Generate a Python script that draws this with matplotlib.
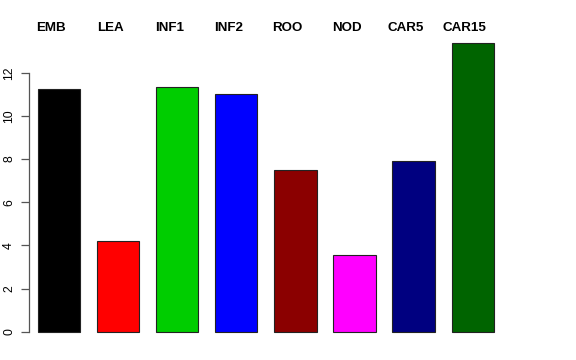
import matplotlib
matplotlib.use("Agg")
import matplotlib.pyplot as plt
import matplotlib.transforms as mtransforms
import numpy as np

categories = ["EMB", "LEA", "INF1", "INF2", "ROO", "NOD", "CAR5", "CAR15"]
values = [11.24, 4.22, 11.35, 11.01, 7.49, 3.55, 7.91, 13.36]
colors = ["#000000", "#FF0000", "#00CD00", "#0000FF", "#8B0000", "#FF00FF", "#000080", "#006400"]
yticks = [0, 2, 4, 6, 8, 10, 12]

plt.rcParams['font.family'] = ['Liberation Sans', 'DejaVu Sans']

W, H = 576, 360
fig = plt.figure(figsize=(5.76, 3.6), dpi=100)
# plot region in pixels
x0, x1 = 19.8, 512.0
ytop, ybot = 31.9, 343.2
ax = fig.add_axes([x0 / W, 1 - ybot / H, (x1 - x0) / W, (ybot - ytop) / H])

space, width = 0.4, 1.0
lefts = np.array([space + i * (width + space) for i in range(len(values))])
centers = lefts + width / 2
ax.bar(centers, values, width=width, color=colors, edgecolor="#222222", linewidth=0.8)

xl = (lefts[0], lefts[-1] + width)
r = xl[1] - xl[0]
ax.set_xlim(xl[0] - 0.04 * r, xl[1] + 0.04 * r)
ymax = max(values)
ax.set_ylim(-0.04 * ymax, ymax * 1.04)

for s in ["top", "right", "bottom"]:
    ax.spines[s].set_visible(False)
xlim = ax.get_xlim()
ax.spines["left"].set_position(("data", xlim[0] + (29 - x0) * (xlim[1] - xlim[0]) / (x1 - x0)))
ax.spines["left"].set_bounds(0, 12)
ax.spines["left"].set_color("#555555")
ax.spines["left"].set_linewidth(0.9)
ax.set_xticks([])
ax.set_yticks(yticks)
ax.set_yticklabels([str(t) for t in yticks], rotation=90, va="center", fontsize=8.8)
ax.tick_params(axis="y", length=5.5, width=0.9, color="#555555", pad=4.5)

off = mtransforms.ScaledTranslation(-8 / 100, 0, fig.dpi_scale_trans)
trans = mtransforms.blended_transform_factory(ax.transData, fig.transFigure) + off
for c, name in zip(centers, categories):
    ax.text(c, 1 - 28 / H, name, transform=trans, ha="center", va="center",
            fontsize=9.6, fontweight="bold", clip_on=False)

fig.savefig("out.png", dpi=100)
